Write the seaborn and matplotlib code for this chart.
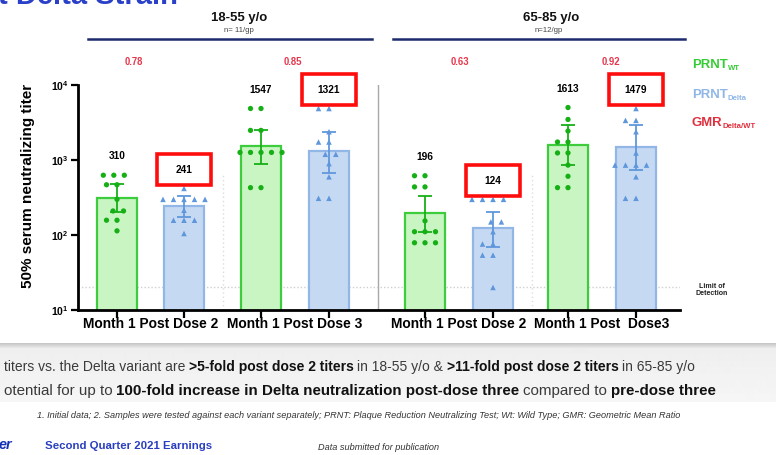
import numpy as np
import pandas as pd
import matplotlib
matplotlib.use("Agg")
import matplotlib.pyplot as plt
import matplotlib.colors as mcolors
from matplotlib import font_manager as fm
from matplotlib.patches import Rectangle
from matplotlib.lines import Line2D
import seaborn as sns

# ---------------- data ----------------
age_groups = ["18-55 y/o", "65-85 y/o"]
group_sizes = ["n= 11/gp", "n=12/gp"]
timepoints = ["Month 1 Post Dose 2", "Month 1 Post Dose 3",
              "Month 1 Post Dose 2", "Month 1 Post  Dose3"]
assays = ["WT", "Delta"]
gmt_wt = [310, 1547, 196, 1613]
gmt_delta = [241, 1321, 124, 1479]
gmr_delta_wt = ["0.78", "0.85", "0.63", "0.92"]
ci_wt_low = [205, 877, 111, 858]
ci_wt_high = [474, 2512, 331, 2929]
ci_delta_low = [172, 665, 69, 736]
ci_delta_high = [330, 2383, 205, 2929]

wt_young_pd2 = [630, 630, 630, 470, 470, 300, 210, 210, 158, 158, 114]
delta_young_pd2 = [420, 300, 300, 300, 300, 300, 215, 158, 158, 158, 105]
wt_young_pd3 = [4900, 4900, 2500, 2500, 1270, 1270, 1270, 1270, 1270, 430, 430]
delta_young_pd3 = [4900, 4900, 2400, 1750, 1750, 1200, 1200, 900, 600, 310, 310]
wt_old_pd2 = [620, 620, 440, 440, 155, 111, 111, 111, 79, 79, 79]
delta_old_pd2 = [300, 300, 300, 300, 150, 150, 111, 76, 76, 54, 54, 20]
wt_old_pd3 = [5050, 3500, 2450, 1750, 1750, 1250, 1250, 860, 610, 430, 430]
delta_old_pd3 = [4900, 3400, 3400, 2400, 1250, 860, 860, 860, 860, 600, 310, 310]
limit_of_detection = 20

wt_points = [wt_young_pd2, wt_young_pd3, wt_old_pd2, wt_old_pd3]
delta_points = [delta_young_pd2, delta_young_pd3, delta_old_pd2, delta_old_pd3]
boxed_delta = [True, True, True, True]

# ---------------- layout / style ----------------
W, H = 776, 455
BAR_X_WT = [117, 261, 425, 568]       # bar centres (x axis runs in pixel-like units)
BAR_X_DELTA = [184, 329, 493, 636]
X_RANGE = (78, 680)
SEPARATOR_X = 378
FAINT_X = [223, 532]
GMR_X_PX = [134, 293, 460, 611]

WT_FILL, WT_EDGE, WT_DOT = "#c9f5c2", "#3ccc3c", "#16b016"
DE_FILL, DE_EDGE, DE_DOT = "#c6d9f3", "#92b6e6", "#5f97dc"

names = {f.name for f in fm.fontManager.ttflist}
NARROW = "Liberation Sans Narrow" in names
FN = "Liberation Sans Narrow" if NARROW else "Liberation Sans"
K = 1.0 if NARROW else 0.86
plt.rcParams["font.family"] = [FN, "DejaVu Sans"]
plt.rcParams["mathtext.fontset"] = "custom"
plt.rcParams["mathtext.rm"] = FN
plt.rcParams["mathtext.bf"] = FN + ":bold"
plt.rcParams["mathtext.it"] = FN + ":italic"


def fx(px):
    return px / W


def fy(py):
    return 1 - py / H


fig = plt.figure(figsize=(W / 100, H / 100), dpi=100)
fig.patch.set_facecolor("white")
ax = fig.add_axes([fx(78), fy(310), (X_RANGE[1] - X_RANGE[0]) / W, (310 - 85.3) / H])
ax.set_facecolor("none")
ax.set_yscale("log")
ax.set_xlim(*X_RANGE)
ax.set_ylim(10, 10000)

# bars
bars = pd.DataFrame({"x": BAR_X_WT + BAR_X_DELTA,
                     "gmt": gmt_wt + gmt_delta,
                     "assay": ["WT"] * 4 + ["Delta"] * 4})
sns.barplot(data=bars, x="x", y="gmt", hue="assay", hue_order=assays,
            palette={"WT": WT_FILL, "Delta": DE_FILL}, native_scale=True,
            dodge=False, width=40 / 67, saturation=1, errorbar=None,
            legend=False, ax=ax, zorder=1, linewidth=1.6)
for p in ax.patches:
    fc = p.get_facecolor()
    is_wt = np.allclose(fc[:3], mcolors.to_rgb(WT_FILL), atol=0.03)
    p.set_edgecolor(WT_EDGE if is_wt else DE_EDGE)


def points_frame(xs, groups):
    rows = [(x, v) for x, vals in zip(xs, groups) for v in vals]
    return pd.DataFrame(rows, columns=["x", "titer"])


sns.swarmplot(data=points_frame(BAR_X_WT, wt_points), x="x", y="titer",
              native_scale=True, orient="x", color=WT_DOT, marker="o",
              size=3.8, linewidth=3.4, edgecolor="none", ax=ax, zorder=4,
              warn_thresh=1)
sns.swarmplot(data=points_frame(BAR_X_DELTA, delta_points), x="x", y="titer",
              native_scale=True, orient="x", color=DE_DOT, marker="^",
              size=4.0, linewidth=3.2, edgecolor="none", ax=ax, zorder=4,
              warn_thresh=1)

for xs, g, lo, hi, c in [(BAR_X_WT, gmt_wt, ci_wt_low, ci_wt_high, WT_DOT),
                         (BAR_X_DELTA, gmt_delta, ci_delta_low, ci_delta_high, DE_DOT)]:
    ax.errorbar(xs, g, yerr=[np.subtract(g, lo), np.subtract(hi, g)], fmt="none",
                ecolor=c, elinewidth=1.3, capsize=5, capthick=1.3, zorder=3)

ax.axhline(limit_of_detection, color="#cfcfcf", lw=1, ls=(0, (1, 1.5)), zorder=0.5)
ax.axvline(SEPARATOR_X, color="#a8a8a8", lw=1, zorder=0.5)
for xv in FAINT_X:
    ax.axvline(xv, ymax=0.6, color="#dddddd", lw=1, ls=(0, (1, 2)), zorder=0.5)

ax.set_xlim(*X_RANGE)
ax.set_ylim(10, 10000)

# axes styling
for s in ["top", "right"]:
    ax.spines[s].set_visible(False)
for s in ["left", "bottom"]:
    ax.spines[s].set_linewidth(2)
    ax.spines[s].set_color("black")
ax.set_xticks(sorted(BAR_X_WT + BAR_X_DELTA))
ax.set_xticklabels([])
mids = [(a + b) / 2 for a, b in zip(BAR_X_WT, BAR_X_DELTA)]
ax.set_xticks(mids, minor=True)
ax.set_xticklabels(timepoints, minor=True, fontsize=11.5 * K, fontweight="bold")
ax.tick_params(axis="x", which="major", length=6, width=1.6, direction="out")
ax.tick_params(axis="x", which="minor", length=0, pad=5)
ax.set_yticks([10, 100, 1000, 10000])
ax.yaxis.set_minor_locator(matplotlib.ticker.NullLocator())
ax.tick_params(axis="y", which="major", length=5, width=1.6, labelsize=7.5, pad=2)
for t in ax.get_yticklabels():
    t.set_fontweight("bold")
ax.set_xlabel("")
ax.set_ylabel("50% serum neutralizing titer", fontsize=11, fontweight="bold",
              family=["Liberation Sans", "DejaVu Sans"])
ax.yaxis.set_label_coords(-0.072, 0.55)

# value labels
label_texts = []
for xs, g, pts, boxed in [(BAR_X_WT, gmt_wt, wt_points, [False] * 4),
                          (BAR_X_DELTA, gmt_delta, delta_points, boxed_delta)]:
    for x, val, p, b in zip(xs, g, pts, boxed):
        t = ax.annotate(f"{val}", (x, max(p)), xytext=(0, 13.5),
                        textcoords="offset points", ha="center", va="center",
                        fontsize=8.5 * K, fontweight="bold", zorder=7,
                        annotation_clip=False)
        label_texts.append((t, b))

# ---------------- figure-level text ----------------
fig.text(fx(-2), fy(4), "t Delta Strain", color="#2b40c8", fontsize=21,
         fontweight="bold", va="baseline")

for cx, lab, ncx, ntxt in [(239, age_groups[0], 239, group_sizes[0]),
                           (551, age_groups[1], 549, group_sizes[1])]:
    fig.text(fx(cx), fy(18), lab, ha="center", va="center", fontsize=11 * K,
             fontweight="bold", color="#111111")
    fig.text(fx(ncx), fy(31), ntxt, ha="center", va="center", fontsize=6.5 * K,
             color="#444444")
for x0, x1 in [(88, 372), (393, 685)]:
    fig.add_artist(Line2D([fx(x0), fx(x1)], [fy(39), fy(39)], color="#1c2a6e", lw=1.8))

for gx, g in zip(GMR_X_PX, gmr_delta_wt):
    fig.text(fx(gx), fy(62), g, ha="center", va="center", fontsize=8 * K,
             fontweight="bold", color="#e8354a")

renderer = fig.canvas.get_renderer()


def chain(pieces, x0, ybase, target=None, gap_em=0.25):
    """pieces: list of (text, props dict); props may include 'dy' (px) and 'gap' (bool)."""
    texts = []
    for s, p in pieces:
        p = dict(p)
        p.pop("dy", None)
        p.pop("gap", None)
        texts.append(fig.text(0, 0, s, va="baseline", **p))

    def layout():
        x = x0
        for (s, p), t in zip(pieces, texts):
            if p.get("gap", False):
                x += gap_em * t.get_fontsize() * 100 / 72
            t.set_x(fx(x))
            t.set_y(fy(ybase + p.get("dy", 0)))
            x += t.get_window_extent(renderer).width
        return x - x0

    total = layout()
    if target:
        k = target / total
        for t in texts:
            t.set_fontsize(t.get_fontsize() * k)
        layout()
    return texts


# legend
chain([("PRNT", dict(fontsize=11 * K, fontweight="bold", color="#35cc35")),
       ("WT", dict(fontsize=6.5 * K, fontweight="bold", color="#35cc35", dy=3))], 692, 67.5)
chain([("PRNT", dict(fontsize=11 * K, fontweight="bold", color="#8fb6e6")),
       ("Delta", dict(fontsize=6.5 * K, fontweight="bold", color="#8fb6e6", dy=3))], 692, 97.5)
chain([("GMR", dict(fontsize=11 * K, fontweight="bold", color="#e0303e")),
       ("Delta/WT", dict(fontsize=6.5 * K, fontweight="bold", color="#e0303e", dy=3))], 692, 125.5)

fig.text(fx(712), fy(290), "Limit of\nDetection", ha="center", va="center",
         fontsize=6 * K, fontweight="bold", color="#222222", linespacing=1.15)

# bottom band
band = fig.add_axes([0, fy(402), 1, (402 - 343) / H], zorder=-5)
grad = np.concatenate([np.linspace(0.78, 0.93, 6), np.linspace(0.935, 0.965, 53)])
band.imshow(grad[:, None], cmap="gray", vmin=0, vmax=1, aspect="auto",
            extent=[0, 1, 0, 1], interpolation="bilinear")
band.set_axis_off()

N = dict(fontsize=10 * K, color="#3a3a3a")
B = dict(fontsize=10 * K, color="#111111", fontweight="bold")
chain([("titers vs. the Delta variant are", N),
       (">5-fold post dose 2 titers", dict(B, gap=True)),
       ("in 18-55 y/o &", dict(N, gap=True)),
       (">11-fold post dose 2 titers", dict(B, gap=True, )),
       ("in 65-85 y/o", dict(N, gap=True))], 4, 371, target=686)
chain([("otential for up to", N),
       ("100-fold increase in Delta neutralization post-dose three", dict(B, gap=True)),
       ("compared to", dict(N, gap=True)),
       ("pre-dose three", dict(B, gap=True))], 4, 395, target=712)
chain([("1. Initial data; 2. Samples were tested against each variant separately; "
        "PRNT: Plaque Reduction Neutralizing Test; Wt: Wild Type; GMR: Geometric Mean Ratio",
        dict(fontsize=5 * K, style="italic", color="#333333"))], 37, 417.5, target=650)
chain([("er", dict(fontsize=12 * K, style="italic", fontweight="bold", color="#1430b4"))], -1, 449)
chain([("Second Quarter 2021 Earnings",
        dict(fontsize=10 * K, fontweight="bold", color="#2a3fbf"))], 45, 449, target=165)
chain([("Data submitted for publication",
        dict(fontsize=5.5 * K, style="italic", color="#333333"))], 318, 450.5, target=120)

# red boxes around the delta value labels
for t, b in label_texts:
    if not b:
        continue
    bb = t.get_window_extent(renderer)
    cx, cy = (bb.x0 + bb.x1) / 2, (bb.y0 + bb.y1) / 2
    ax.add_patch(Rectangle(((cx - 27) / W, (cy - 15.5) / H), 54 / W, 31 / H,
                           transform=fig.transFigure, clip_on=False, zorder=6,
                           facecolor="white", edgecolor="#ff0d0d", lw=2.6))

fig.savefig("out.png", dpi=100)
